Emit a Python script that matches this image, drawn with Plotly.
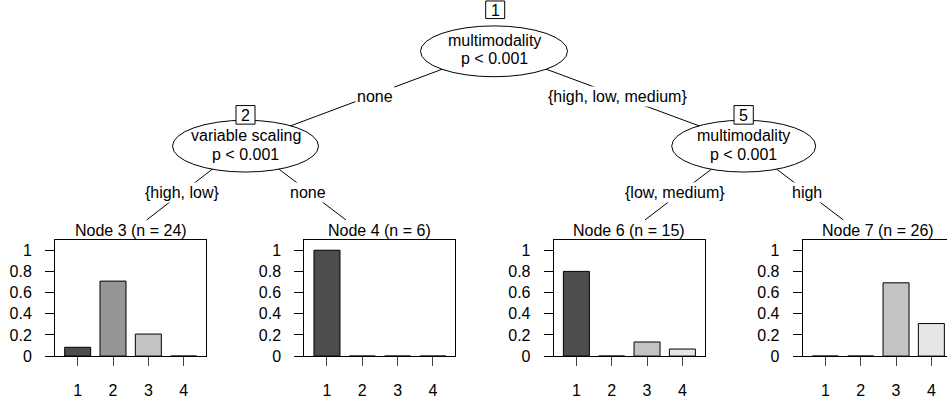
import plotly.graph_objects as go

# ---------------- data ----------------
categories = [1, 2, 3, 4]
category_labels = ["1", "2", "3", "4"]
node3_counts = [2, 17, 5, 0]
node4_counts = [6, 0, 0, 0]
node6_counts = [12, 0, 2, 1]
node7_counts = [0, 0, 18, 8]
terminal_ids = [3, 4, 6, 7]
bar_colors = ["#4D4D4D", "#969696", "#C3C3C3", "#E6E6E6"]
y_ticks = [0, 0.2, 0.4, 0.6, 0.8, 1]
y_tick_labels = ["0", "0.2", "0.4", "0.6", "0.8", "1"]

inner_nodes = [
    # id, variable, p-value text
    (1, "multimodality", "p < 0.001"),
    (2, "variable scaling", "p < 0.001"),
    (5, "multimodality", "p < 0.001"),
]
edge_labels = ["none", "{high, low, medium}", "{high, low}", "none", "{low, medium}", "high"]

# ---------------- layout geometry (pixels) ----------------
W, H = 947, 400
FONT = "Liberation Sans, Arial, Helvetica, sans-serif"
FS = 16


def px(x):
    return x / W


def py(y):
    return 1 - y / H


all_counts = [node3_counts, node4_counts, node6_counts, node7_counts]
panel_left = [55, 304.3, 553.7, 802.7]
panel_w = 151.0
panel_top, panel_bottom = 245.7, 364.3
x_lo, x_hi = 0.358, 4.632
y_top = 1.095
unit_px = panel_w / (x_hi - x_lo)

fig = go.Figure()
layout_axes = {}
annotations = []

for i, counts in enumerate(all_counts):
    n = sum(counts)
    props = [c / n for c in counts]
    k = i + 1
    xa = "x" if k == 1 else f"x{k}"
    ya = "y" if k == 1 else f"y{k}"
    fig.add_trace(go.Bar(
        x=categories, y=props, width=0.736,
        marker=dict(color=bar_colors, line=dict(color="black", width=1)),
        xaxis=xa, yaxis=ya, showlegend=False, hoverinfo="skip",
    ))
    left = panel_left[i]
    right = left + panel_w
    rng_hi = x_hi
    mirror_y = True
    if right > W:
        rng_hi = x_lo + (W - left) / unit_px
        right = W
        mirror_y = False
    layout_axes["xaxis" if k == 1 else f"xaxis{k}"] = dict(
        domain=[px(left), px(right)], range=[x_lo, rng_hi], anchor=ya,
        showline=True, linecolor="black", linewidth=1, mirror=True,
        ticks="outside", ticklen=9, tickcolor="#444", tickwidth=1,
        tickvals=categories, ticktext=category_labels,
        ticklabelstandoff=11,
        showgrid=False, zeroline=False, fixedrange=True,
        tickfont=dict(family=FONT, size=FS, color="black"),
    )
    layout_axes["yaxis" if k == 1 else f"yaxis{k}"] = dict(
        domain=[py(panel_bottom), py(panel_top)], range=[0, y_top], anchor=xa,
        showline=True, linecolor="black", linewidth=1, mirror=mirror_y,
        ticks="outside", ticklen=9, tickcolor="black", tickwidth=1,
        tickvals=y_ticks, ticktext=y_tick_labels,
        ticklabelstandoff=10,
        showgrid=False, zeroline=False, fixedrange=True,
        tickfont=dict(family=FONT, size=FS, color="black"),
    )
    title_x = (panel_left[i] + panel_left[i] + panel_w) / 2
    annotations.append(dict(
        x=px(title_x), y=py(236.3), xref="paper", yref="paper",
        text=f"Node {terminal_ids[i]} (n = {n})", showarrow=False,
        xanchor="center", yanchor="middle",
        font=dict(family=FONT, size=FS, color="black"),
    ))

# ---------------- tree structure ----------------
shapes = []
edges = [
    ((494, 51), (245.5, 146)),
    ((494, 51), (744.5, 146)),
    ((246.5, 146), (146.7, 225)),
    ((244, 146), (346, 225)),
    ((746, 146), (645, 225)),
    ((742, 146), (843.3, 225)),
]
for (x0, y0), (x1, y1) in edges:
    shapes.append(dict(type="line", xref="paper", yref="paper",
                       x0=px(x0), y0=py(y0), x1=px(x1), y1=py(y1),
                       line=dict(color="black", width=1)))

ellipses = [
    (494, 52.5, 73.5, 26),
    (245.5, 149.5, 73, 26.5),
    (743.7, 149.5, 72, 26.5),
]
for cx, cy, rx, ry in ellipses:
    shapes.append(dict(type="circle", xref="paper", yref="paper",
                       x0=px(cx - rx), x1=px(cx + rx), y0=py(cy + ry), y1=py(cy - ry),
                       fillcolor="white", line=dict(color="black", width=1)))

boxes = [
    (485.7, 504.7, 1, 19),
    (236, 255, 108, 127),
    (734, 753.3, 108, 127),
]
for bx0, bx1, by0, by1 in boxes:
    shapes.append(dict(type="rect", xref="paper", yref="paper",
                       x0=px(bx0), x1=px(bx1), y0=py(by1), y1=py(by0),
                       fillcolor="white", line=dict(color="black", width=1)))

text_rows = [(41.7, 60), (138.3, 158.3), (138.3, 158.3)]
for (nid, var, pval), (bx0, bx1, by0, by1), (cx, cy, rx, ry), (r1, r2) in zip(inner_nodes, boxes, ellipses, text_rows):
    annotations.append(dict(x=px((bx0 + bx1) / 2), y=py((by0 + by1) / 2 + 0.5), xref="paper", yref="paper",
                            text=str(nid), showarrow=False, xanchor="center", yanchor="middle",
                            font=dict(family=FONT, size=FS, color="black")))
    annotations.append(dict(x=px(cx), y=py(r1), xref="paper", yref="paper",
                            text=var, showarrow=False, xanchor="center", yanchor="middle",
                            font=dict(family=FONT, size=FS, color="black")))
    annotations.append(dict(x=px(cx), y=py(r2), xref="paper", yref="paper",
                            text=pval, showarrow=False, xanchor="center", yanchor="middle",
                            font=dict(family=FONT, size=FS, color="black")))

edge_label_pos = [(375, 99), (617, 99), (182, 197), (308, 197), (675, 197), (807, 197)]
for lab, (lx, ly) in zip(edge_labels, edge_label_pos):
    annotations.append(dict(x=px(lx), y=py(ly), xref="paper", yref="paper",
                            text=lab, showarrow=False, xanchor="center", yanchor="middle",
                            bgcolor="white", borderpad=1,
                            font=dict(family=FONT, size=FS, color="black")))

fig.update_layout(
    width=W, height=H,
    margin=dict(l=0, r=0, t=0, b=0),
    paper_bgcolor="white", plot_bgcolor="white",
    showlegend=False,
    shapes=shapes,
    annotations=annotations,
    **layout_axes,
)

fig.write_html(
    "out.html",
    config={"displayModeBar": False},
    post_script="document.body.style.margin='0';document.body.style.overflow='hidden';",
)
